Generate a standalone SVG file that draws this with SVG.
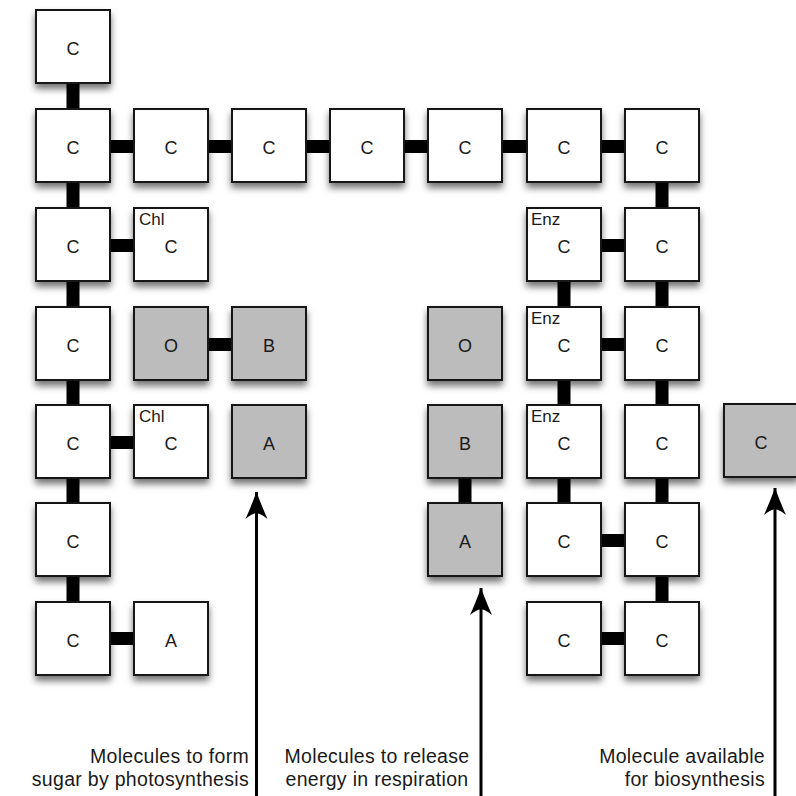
<svg xmlns="http://www.w3.org/2000/svg" width="796" height="796" viewBox="0 0 796 796">
  <style>
    .box { stroke: #151515; stroke-width: 2; filter: url(#shadow); }
    .white { fill: #ffffff; }
    .grey { fill: #bcbcbc; }
    .atom { font-family: "Liberation Sans", Arial, sans-serif; font-size: 18px; fill: #1a1a1a; text-anchor: middle; }
    .tag { font-family: "Liberation Sans", Arial, sans-serif; font-size: 17px; fill: #1a1a1a; }
    .bond { fill: #000000; }
    .pointer { stroke: #000000; stroke-width: 3; fill: none; marker-end: url(#head); }
    .caption { font-family: "Liberation Sans", Arial, sans-serif; font-size: 19.5px; fill: #1a1a1a; letter-spacing: 0.3px; }
  </style>
  <defs>
    <filter id="shadow" x="-30%" y="-30%" width="160%" height="170%">
      <feDropShadow dx="0" dy="5" stdDeviation="3.5" flood-color="#000000" flood-opacity="0.55"/>
    </filter>
    <marker id="head" markerUnits="userSpaceOnUse" markerWidth="30" markerHeight="24" viewBox="0 0 30 24" refX="28" refY="12" orient="auto">
      <path d="M28,12 Q12,6 1,1 Q6,7 7,12 Q6,17 1,23 Q12,18 28,12 Z" fill="#000000"/>
    </marker>
  </defs>

  <rect width="796" height="796" fill="#ffffff"/>

  <!-- bonds and pointer arrows -->
  <g id="connectors">
    <!-- column 1 vertical chain -->
    <rect class="bond" x="66.5" y="83" width="13" height="26"/>
    <rect class="bond" x="66.5" y="182" width="13" height="26"/>
    <rect class="bond" x="66.5" y="281" width="13" height="26"/>
    <rect class="bond" x="66.5" y="380" width="13" height="25"/>
    <rect class="bond" x="66.5" y="478" width="13" height="25"/>
    <rect class="bond" x="66.5" y="576" width="13" height="26"/>
    <!-- top row horizontal chain -->
    <rect class="bond" x="110" y="140" width="24" height="13"/>
    <rect class="bond" x="208" y="140" width="24" height="13"/>
    <rect class="bond" x="306" y="140" width="24" height="13"/>
    <rect class="bond" x="404" y="140" width="24" height="13"/>
    <rect class="bond" x="502" y="140" width="25" height="13"/>
    <rect class="bond" x="601" y="140" width="24" height="13"/>
    <!-- side branches on the left -->
    <rect class="bond" x="110" y="239" width="24" height="13"/>
    <rect class="bond" x="208" y="338" width="24" height="13"/>
    <rect class="bond" x="110" y="436" width="24" height="13"/>
    <rect class="bond" x="110" y="632" width="24" height="13"/>
    <!-- column 7 vertical chain -->
    <rect class="bond" x="655.5" y="182" width="13" height="26"/>
    <rect class="bond" x="655.5" y="281" width="13" height="26"/>
    <rect class="bond" x="655.5" y="380" width="13" height="25"/>
    <rect class="bond" x="655.5" y="478" width="13" height="25"/>
    <rect class="bond" x="655.5" y="576" width="13" height="26"/>
    <!-- column 6 vertical links -->
    <rect class="bond" x="557.5" y="281" width="13" height="26"/>
    <rect class="bond" x="557.5" y="380" width="13" height="25"/>
    <rect class="bond" x="557.5" y="478" width="13" height="25"/>
    <!-- column 6 to column 7 links -->
    <rect class="bond" x="601" y="239" width="24" height="13"/>
    <rect class="bond" x="601" y="338" width="24" height="13"/>
    <rect class="bond" x="601" y="534" width="24" height="13"/>
    <rect class="bond" x="601" y="632" width="24" height="13"/>
    <!-- B to A link -->
    <rect class="bond" x="458.5" y="478" width="13" height="25"/>

    <!-- pointers -->
    <line class="pointer" x1="256.5" y1="796" x2="256.5" y2="492"/>
    <line class="pointer" x1="481" y1="796" x2="481" y2="588"/>
    <line class="pointer" x1="775" y1="796" x2="775" y2="488"/>
  </g>

  <!-- column 1 -->
  <g id="c-r0-c0"><rect class="box white" x="36" y="10" width="74" height="73"/><text class="atom" x="73" y="55">C</text></g>
  <g id="c-r1-c0"><rect class="box white" x="36" y="109" width="74" height="73"/><text class="atom" x="73" y="154">C</text></g>
  <g id="c-r2-c0"><rect class="box white" x="36" y="208" width="74" height="73"/><text class="atom" x="73" y="253">C</text></g>
  <g id="c-r3-c0"><rect class="box white" x="36" y="307" width="74" height="73"/><text class="atom" x="73" y="352">C</text></g>
  <g id="c-r4-c0"><rect class="box white" x="36" y="405" width="74" height="73"/><text class="atom" x="73" y="450">C</text></g>
  <g id="c-r5-c0"><rect class="box white" x="36" y="503" width="74" height="73"/><text class="atom" x="73" y="548">C</text></g>
  <g id="c-r6-c0"><rect class="box white" x="36" y="602" width="74" height="73"/><text class="atom" x="73" y="647">C</text></g>

  <!-- top row -->
  <g id="c-r1-c1"><rect class="box white" x="134" y="109" width="74" height="73"/><text class="atom" x="171" y="154">C</text></g>
  <g id="c-r1-c2"><rect class="box white" x="232" y="109" width="74" height="73"/><text class="atom" x="269" y="154">C</text></g>
  <g id="c-r1-c3"><rect class="box white" x="330" y="109" width="74" height="73"/><text class="atom" x="367" y="154">C</text></g>
  <g id="c-r1-c4"><rect class="box white" x="428" y="109" width="74" height="73"/><text class="atom" x="465" y="154">C</text></g>
  <g id="c-r1-c5"><rect class="box white" x="527" y="109" width="74" height="73"/><text class="atom" x="564" y="154">C</text></g>
  <g id="c-r1-c6"><rect class="box white" x="625" y="109" width="74" height="73"/><text class="atom" x="662" y="154">C</text></g>

  <!-- left branch group -->
  <g id="chl-1"><rect class="box white" x="134" y="208" width="74" height="73"/><text class="tag" x="139" y="225">Chl</text><text class="atom" x="171" y="253">C</text></g>
  <g id="o-left"><rect class="box grey" x="134" y="307" width="74" height="73"/><text class="atom" x="171" y="352">O</text></g>
  <g id="b-left"><rect class="box grey" x="232" y="307" width="74" height="73"/><text class="atom" x="269" y="352">B</text></g>
  <g id="chl-2"><rect class="box white" x="134" y="405" width="74" height="73"/><text class="tag" x="139" y="422">Chl</text><text class="atom" x="171" y="450">C</text></g>
  <g id="a-grey-left"><rect class="box grey" x="232" y="405" width="74" height="73"/><text class="atom" x="269" y="450">A</text></g>
  <g id="a-white"><rect class="box white" x="134" y="602" width="74" height="73"/><text class="atom" x="171" y="647">A</text></g>

  <!-- middle group -->
  <g id="o-mid"><rect class="box grey" x="428" y="307" width="74" height="73"/><text class="atom" x="465" y="352">O</text></g>
  <g id="b-mid"><rect class="box grey" x="428" y="405" width="74" height="73"/><text class="atom" x="465" y="450">B</text></g>
  <g id="a-mid"><rect class="box grey" x="428" y="503" width="74" height="73"/><text class="atom" x="465" y="548">A</text></g>

  <!-- right group, column 6 -->
  <g id="enz-1"><rect class="box white" x="527" y="208" width="74" height="73"/><text class="tag" x="531" y="225">Enz</text><text class="atom" x="564" y="253">C</text></g>
  <g id="enz-2"><rect class="box white" x="527" y="307" width="74" height="73"/><text class="tag" x="531" y="324">Enz</text><text class="atom" x="564" y="352">C</text></g>
  <g id="enz-3"><rect class="box white" x="527" y="405" width="74" height="73"/><text class="tag" x="531" y="422">Enz</text><text class="atom" x="564" y="450">C</text></g>
  <g id="c-r5-c5"><rect class="box white" x="527" y="503" width="74" height="73"/><text class="atom" x="564" y="548">C</text></g>
  <g id="c-r6-c5"><rect class="box white" x="527" y="602" width="74" height="73"/><text class="atom" x="564" y="647">C</text></g>

  <!-- right group, column 7 -->
  <g id="c-r2-c6"><rect class="box white" x="625" y="208" width="74" height="73"/><text class="atom" x="662" y="253">C</text></g>
  <g id="c-r3-c6"><rect class="box white" x="625" y="307" width="74" height="73"/><text class="atom" x="662" y="352">C</text></g>
  <g id="c-r4-c6"><rect class="box white" x="625" y="405" width="74" height="73"/><text class="atom" x="662" y="450">C</text></g>
  <g id="c-r5-c6"><rect class="box white" x="625" y="503" width="74" height="73"/><text class="atom" x="662" y="548">C</text></g>
  <g id="c-r6-c6"><rect class="box white" x="625" y="602" width="74" height="73"/><text class="atom" x="662" y="647">C</text></g>

  <!-- free carbon -->
  <g id="c-free"><rect class="box grey" x="724" y="404" width="74" height="73"/><text class="atom" x="761" y="449">C</text></g>

  <!-- captions -->
  <g id="captions">
    <text class="caption" x="249" y="763" text-anchor="end">Molecules to form</text>
    <text class="caption" x="249" y="786" text-anchor="end">sugar by photosynthesis</text>
    <text class="caption" x="377" y="763" text-anchor="middle">Molecules to release</text>
    <text class="caption" x="377" y="786" text-anchor="middle">energy in respiration</text>
    <text class="caption" x="765" y="763" text-anchor="end">Molecule available</text>
    <text class="caption" x="765" y="786" text-anchor="end">for biosynthesis</text>
  </g>
</svg>
